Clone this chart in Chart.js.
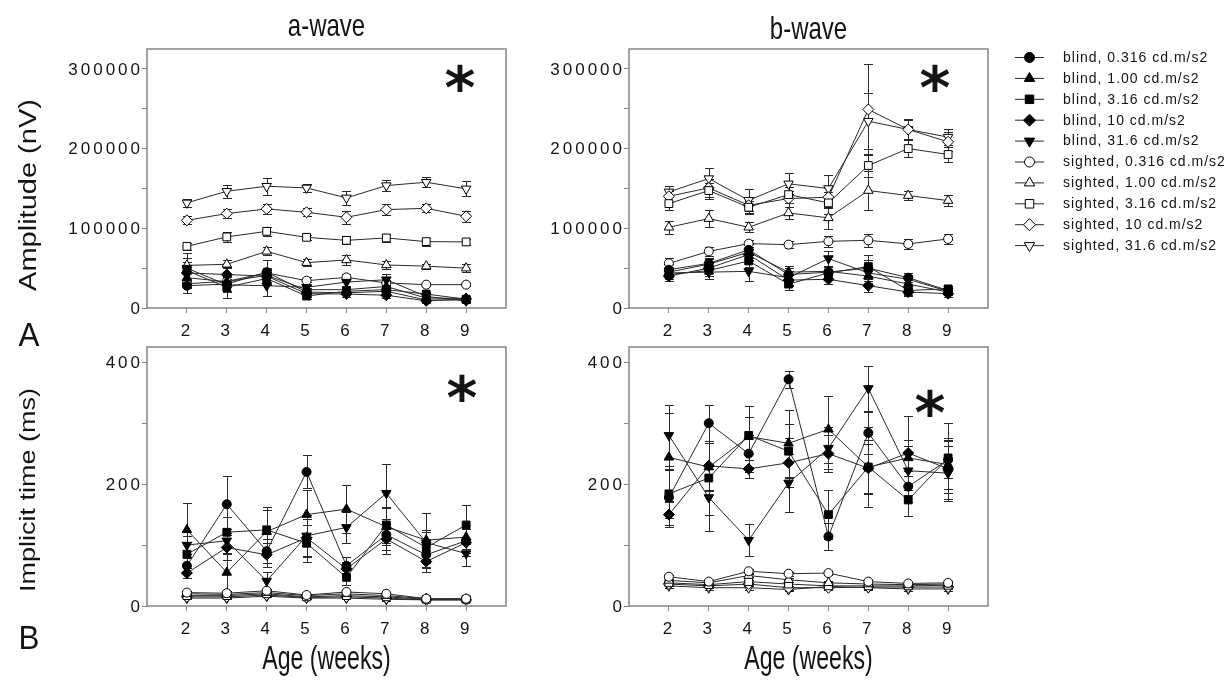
<!DOCTYPE html>
<html>
<head>
<meta charset="utf-8">
<title>ERG a-wave / b-wave</title>
<script src="https://cdn.jsdelivr.net/npm/chart.js@4.4.1/dist/chart.umd.min.js"></script>
<style>
  html, body { margin: 0; padding: 0; background: #fff; }
  #wrap { position: relative; width: 1230px; height: 680px; overflow: hidden; }
  canvas { position: absolute; }
</style>
</head>
<body>
<div id="wrap">
  <canvas id="ampA"  width="560" height="352" style="left:0px;top:0px"></canvas>
  <canvas id="ampB"  width="710" height="352" style="left:520px;top:0px"></canvas>
  <canvas id="timeA" width="560" height="340" style="left:0px;top:340px"></canvas>
  <canvas id="timeB" width="480" height="340" style="left:520px;top:340px"></canvas>
</div>
<script>
/* ── data ─────────────────────────────────────────────────── */
const weeks = [2, 3, 4, 5, 6, 7, 8, 9];
const intensities = ['0.316', '1.00', '3.16', '10', '31.6'];
const ampTicks  = [0, 100000, 200000, 300000];
const timeTicks = [0, 200, 400];

// a-wave amplitude (nV), one row per intensity
const ampA_blind = [
    [28000, 30000, 45000, 20000, 19000, 21000, 10000, 10000],
    [38000, 33000, 41000, 23000, 23000, 27000, 12500, 12000],
    [47000, 26000, 37000, 15000, 21000, 23000, 17500, 11000],
    [44000, 42000, 40000, 18000, 17500, 16000,  9000, 11500],
    [50000, 29000, 28000, 26000, 32500, 35500, 14500,  9000],
];
const ampA_blindErr = [
    [ 9000, 10000, 15000, 5000, 5000, 5000, 3000, 2500],
    [ 8000,  7000,  9000, 5000, 5000, 6000, 3000, 2500],
    [22000, 13000,  8000, 4000, 4000, 5000, 3000, 2500],
    [ 7000, 10000,  8000, 4000, 4000, 4000, 2500, 2500],
    [13000,  8000, 13000, 6000, 6000, 7000, 3000, 2500],
];
const ampA_sighted = [
    [ 30500,  33400,  44000,  34300,  38400,  31400,  29300,  29300],
    [ 53500,  54800,  71100,  56900,  60300,  54000,  52500,  50000],
    [ 77400,  89200,  96200,  88700,  84900,  87900,  83300,  82900],
    [110000, 118500, 124300, 120100, 113800, 123500, 125100, 115100],
    [131900, 146500, 152800, 150700, 138200, 153600, 157800, 149500],
];
const ampA_sightedErr = [
    [4000, 5000, 5000, 5000, 4000, 4000, 2000, 2000],
    [4000, 5000, 5000, 4000, 6000, 5000, 3000, 5000],
    [4000, 6000, 6000, 3000, 5000, 5000, 5000, 4000],
    [5000, 6000, 6000, 5000, 8000, 7000, 5000, 7000],
    [5000, 8400, 10500, 5000, 9000, 6500, 6500, 9400],
];

// b-wave amplitude (nV)
const ampB_blind = [
    [48000, 56000, 73000, 42000, 45000, 50000, 38000, 22000],
    [45000, 55000, 70000, 45000, 46000, 40000, 30000, 20000],
    [42000, 47000, 59000, 30000, 44000, 52000, 22000, 24000],
    [40000, 50000, 67000, 35000, 36000, 28000, 20000, 18000],
    [44000, 45000, 46000, 38000, 62000, 44000, 36000, 21000],
];
const ampB_blindErr = [
    [7000, 7000, 7000, 8000, 7000, 10000, 6000, 4000],
    [6000, 7000, 7000, 8000, 7000,  9000, 6000, 4000],
    [6000, 7000, 8000, 7000, 8000, 15000, 6000, 4000],
    [6000, 6000, 7000, 7000, 6000,  8000, 5000, 4000],
    [7000, 8000, 12600, 9000, 9000, 10000, 6000, 4000],
];
const ampB_sighted = [
    [ 56000,  71000,  80800,  79500,  83700,  84900,  80400,  86700],
    [101300, 112200, 101300, 119300, 113100, 147400, 141100, 134800],
    [131000, 147400, 126400, 142300, 131900, 178800, 200100, 192600],
    [140200, 150700, 128900, 137300, 139000, 249100, 224000, 208500],
    [145700, 162400, 135200, 155800, 149900, 234400, 224000, 214400],
];
const ampB_sightedErr = [
    [7000,  6000,  4000,  4000,  7000,  8000,  6000,  6000],
    [8000, 11000,  6000,  8000, 13500, 24000,  6000,  7000],
    [8000, 10000,  8000, 10000, 14000, 15000, 11000, 10000],
    [7000, 11000, 10000, 10000, 14000, 57000, 12000, 12000],
    [7000, 13000, 14000, 13000, 17600, 35000, 13000, 10000],
];

// a-wave implicit time (ms)
const timeA_blind = [
    [ 66, 167,  90, 220,  66, 117,  84, 107],
    [125,  55, 122, 150, 159, 130, 108, 113],
    [ 85, 121, 125, 103,  47, 133,  96, 133],
    [ 54,  96,  84, 112,  61, 110,  73, 104],
    [100, 107,  41, 115, 129, 185, 104,  86],
];
const timeA_blindErr = [
    [12, 47, 20, 27, 15, 25, 20, 20],
    [44, 30, 35, 40, 40, 30, 45, 20],
    [20, 25, 37, 30, 12, 30, 25, 32],
    [ 8, 20, 20, 30, 12, 25, 18, 22],
    [15, 20, 15, 35, 25, 48, 20, 20],
];
const timeA_sighted = [
    [22, 21, 25, 18, 23, 20, 12, 12],
    [20, 19, 22, 17, 20, 17, 12, 11],
    [17, 17, 20, 15, 17, 15, 11, 11],
    [15, 15, 18, 14, 15, 13, 10, 10],
    [13, 13, 16, 13, 13, 11, 10, 10],
];
const timeA_sightedErr = [
    [3, 3, 3, 2, 3, 3, 2, 2],
    [3, 2, 3, 2, 3, 2, 2, 2],
    [2, 2, 3, 2, 2, 2, 2, 2],
    [2, 2, 2, 2, 2, 2, 2, 2],
    [2, 2, 2, 2, 2, 2, 2, 2],
];

// b-wave implicit time (ms)
const timeB_blind = [
    [178, 300, 250, 372, 114, 284, 196, 240],
    [244, 228, 278, 267, 290, 228, 243, 232],
    [184, 210, 280, 254, 150, 228, 174, 243],
    [150, 230, 225, 235, 250, 226, 251, 225],
    [280, 178, 108, 202, 259, 357, 222, 218],
];
const timeB_blindErr = [
    [45, 30, 30, 14, 22, 35, 25, 30],
    [72, 40, 50, 55, 55, 65, 30, 40],
    [40, 60, 30, 44, 40, 45, 27, 57],
    [20, 40, 15, 40, 30, 40, 60, 50],
    [50, 55, 26, 48, 35, 37, 40, 45],
];
const timeB_sighted = [
    [48, 40, 57, 53, 54, 40, 37, 38],
    [42, 38, 50, 43, 38, 36, 35, 36],
    [38, 35, 40, 36, 33, 33, 33, 34],
    [36, 33, 36, 30, 30, 31, 31, 31],
    [33, 30, 30, 27, 32, 30, 28, 28],
];
const timeB_sightedErr = [
    [3, 3, 3, 3, 3, 3, 3, 3],
    [3, 3, 3, 3, 3, 3, 3, 3],
    [3, 3, 3, 3, 3, 3, 3, 3],
    [3, 3, 3, 3, 3, 3, 3, 3],
    [3, 3, 3, 3, 3, 3, 3, 3],
];

/* ── styling ──────────────────────────────────────────────── */
const fontFamily = '"Liberation Sans", Arial, sans-serif';
const ink   = '#141414';
const line  = '#2a2a2a';
const frame = '#858585';

Chart.defaults.font.family = fontFamily;

const markers = [
    { pointStyle: 'circle',   radius: 4.5, rotation: 0 },
    { pointStyle: 'triangle', radius: 5.5, rotation: 0 },
    { pointStyle: 'rect',     radius: 5.5, rotation: 0 },
    { pointStyle: 'rectRot',  radius: 5.5, rotation: 0 },
    { pointStyle: 'triangle', radius: 5.5, rotation: 180 },
];

function buildSets(blind, blindErr, sighted, sightedErr) {
    const sets = [];
    [['blind', blind, blindErr, '#000'], ['sighted', sighted, sightedErr, '#fff']].forEach(([group, rows, errs, fill]) => {
        rows.forEach((row, i) => {
            const m = markers[i];
            sets.push({
                label: `${group}, ${intensities[i]} cd.m/s2`,
                data: row.map((v, k) => ({ x: weeks[k], y: v })),
                errors: errs[i],
                borderColor: line,
                borderWidth: 1,
                tension: 0,
                pointStyle: m.pointStyle,
                pointRadius: m.radius,
                pointRotation: m.rotation,
                pointBackgroundColor: fill,
                pointBorderColor: '#000',
                pointBorderWidth: 1,
            });
        });
    });
    return sets;
}

// centred text, optionally narrowed and/or rotated
function drawLabel(ctx, item) {
    ctx.save();
    ctx.letterSpacing = '0px';
    ctx.translate(item.x, item.y);
    ctx.scale(item.squash || 0.8, 1);
    if (item.rotate) ctx.rotate(-Math.PI / 2);
    let size = item.size;
    const family = item.family || fontFamily;
    const weight = item.bold ? 'bold ' : '';
    ctx.font = `${weight}${size}px ${family}`;
    if (item.fitHeight) {
        const probe = ctx.measureText(item.text);
        const h = probe.actualBoundingBoxAscent + probe.actualBoundingBoxDescent;
        size = size * item.fitHeight / h;
        ctx.font = `${weight}${size}px ${family}`;
    }
    ctx.fillStyle = item.color || ink;
    ctx.textAlign = 'center';
    ctx.textBaseline = 'alphabetic';
    const m = ctx.measureText(item.text);
    ctx.fillText(item.text, 0, (m.actualBoundingBoxAscent - m.actualBoundingBoxDescent) / 2);
    ctx.restore();
}

/* ── plugins ──────────────────────────────────────────────── */
const spacing = {
    id: 'spacing',
    beforeLayout(chart) { chart.ctx.letterSpacing = '3px'; },
    beforeDraw(chart)   { chart.ctx.letterSpacing = '3px'; },
};

const framePlugin = {
    id: 'frame',
    afterDraw(chart) {
        const { ctx, chartArea: a } = chart;
        ctx.save();
        ctx.strokeStyle = frame;
        ctx.lineWidth = 1.5;
        ctx.strokeRect(a.left, a.top, a.right - a.left, a.bottom - a.top);
        ctx.restore();
    },
};

// value labels on the y axis, only for the labelled ticks
const yLabels = {
    id: 'yLabels',
    afterDraw(chart, args, opts) {
        const s = chart.scales.y;
        const ctx = chart.ctx;
        ctx.save();
        ctx.letterSpacing = '3px';
        ctx.font = `17px ${fontFamily}`;
        ctx.fillStyle = ink;
        ctx.textAlign = 'right';
        ctx.textBaseline = 'middle';
        s.ticks.forEach(t => {
            if (opts.labelled.includes(t.value)) {
                ctx.fillText(String(t.value), s.right - 4, s.getPixelForValue(t.value) + 1);
            }
        });
        ctx.restore();
    },
};

const errorBars = {
    id: 'errorBars',
    beforeDatasetsDraw(chart) {
        const { ctx, scales: { x, y } } = chart;
        ctx.save();
        ctx.strokeStyle = line;
        ctx.lineWidth = 1;
        chart.data.datasets.forEach(ds => {
            ds.data.forEach((p, k) => {
                const e = ds.errors[k];
                const px = Math.round(x.getPixelForValue(p.x)) + 0.5;
                const hi = Math.round(y.getPixelForValue(p.y + e)) + 0.5;
                const lo = Math.round(y.getPixelForValue(Math.max(p.y - e, 0))) + 0.5;
                ctx.beginPath();
                ctx.moveTo(px, hi);       ctx.lineTo(px, lo);
                ctx.moveTo(px - 4.5, hi); ctx.lineTo(px + 4.5, hi);
                ctx.moveTo(px - 4.5, lo); ctx.lineTo(px + 4.5, lo);
                ctx.stroke();
            });
        });
        ctx.restore();
    },
};

const panelText = {
    id: 'panelText',
    afterDraw(chart, args, opts) {
        (opts.items || []).forEach(item => drawLabel(chart.ctx, item));
    },
};

const legendPlugin = {
    id: 'sideLegend',
    afterDraw(chart, args, opts) {
        if (!opts.show) return;
        const ctx = chart.ctx;
        ctx.save();
        chart.data.datasets.forEach((ds, i) => {
            const y = opts.top + i * opts.step;
            ctx.strokeStyle = line;
            ctx.lineWidth = 1;
            ctx.beginPath();
            ctx.moveTo(opts.lineLeft, y + 0.5);
            ctx.lineTo(opts.lineRight, y + 0.5);
            ctx.stroke();
            ctx.fillStyle = ds.pointBackgroundColor;
            ctx.strokeStyle = '#000';
            Chart.helpers.drawPoint(ctx, {
                pointStyle: ds.pointStyle,
                radius: ds.pointRadius + 0.5,
                rotation: ds.pointRotation,
                borderWidth: 1,
            }, (opts.lineLeft + opts.lineRight) / 2, y + 0.5);
            ctx.letterSpacing = '1px';
            ctx.font = `14px ${fontFamily}`;
            ctx.fillStyle = ink;
            ctx.textAlign = 'left';
            ctx.textBaseline = 'middle';
            ctx.fillText(ds.label, opts.textLeft, y + 1);
        });
        ctx.restore();
    },
};

/* ── axes ─────────────────────────────────────────────────── */
function xAxis(height) {
    return {
        type: 'linear',
        min: 1,
        max: 10,
        afterBuildTicks: s => { s.ticks = weeks.map(w => ({ value: w })); },
        afterFit: s => { s.height = height; },
        grid: { drawOnChartArea: false, drawTicks: true, tickLength: 5, color: frame, lineWidth: 1 },
        border: { display: false },
        ticks: {
            color: ink, font: { size: 17 }, padding: 8,
            autoSkip: false, maxRotation: 0,
            callback: v => String(v),
        },
    };
}

function yAxis(max, step, labelled, width) {
    const top = labelled[labelled.length - 1];
    return {
        min: 0,
        max,
        afterBuildTicks: s => {
            const ticks = [];
            for (let v = 0; v <= top; v += step) ticks.push({ value: v });
            s.ticks = ticks;
        },
        afterFit: s => { s.width = width; },
        grid: { drawOnChartArea: false, drawTicks: true, tickLength: 5, color: frame, lineWidth: 1 },
        border: { display: false },
        ticks: { display: false },
    };
}

function makeChart(id, datasets, cfg) {
    return new Chart(document.getElementById(id), {
        type: 'line',
        data: { datasets },
        options: {
            responsive: false,
            animation: false,
            devicePixelRatio: 1,
            layout: { padding: cfg.padding },
            plugins: {
                legend: { display: false },
                tooltip: { enabled: false },
                panelText: { items: cfg.text },
                yLabels: { labelled: cfg.labelled },
                sideLegend: cfg.legend || { show: false },
            },
            scales: {
                x: xAxis(cfg.xHeight),
                y: yAxis(cfg.max, cfg.step, cfg.labelled, cfg.yWidth),
            },
        },
        plugins: [spacing, errorBars, framePlugin, yLabels, panelText, legendPlugin],
    });
}

const star = { text: '*', size: 80, bold: true, fitHeight: 28, squash: 1, family: '"DejaVu Sans", sans-serif' };
const heading = { size: 32, squash: 0.75 };
const xTitle  = { text: 'Age (weeks)', size: 34, squash: 0.68 };

/* ── A: amplitude ─────────────────────────────────────────── */
makeChart('ampA', buildSets(ampA_blind, ampA_blindErr, ampA_sighted, ampA_sightedErr), {
    padding: { top: 49, right: 54, left: 0, bottom: 0 },
    xHeight: 44, yWidth: 147,
    max: 325000, step: 50000, labelled: ampTicks,
    text: [
        { ...heading, text: 'a-wave', x: 326.5, y: 27 },
        { text: 'Amplitude (nV)', x: 29, y: 195, size: 29, rotate: true, squash: 0.85 },
        { text: 'A', x: 29, y: 334, size: 33, squash: 0.95 },
        { ...star, x: 460, y: 78 },
    ],
});

makeChart('ampB', buildSets(ampB_blind, ampB_blindErr, ampB_sighted, ampB_sightedErr), {
    padding: { top: 49, right: 242, left: 0, bottom: 0 },
    xHeight: 44, yWidth: 109,
    max: 325000, step: 50000, labelled: ampTicks,
    text: [
        { ...heading, text: 'b-wave', x: 288.5, y: 27 },
        { ...star, x: 415, y: 78 },
    ],
    legend: { show: true, top: 57, step: 20.9, lineLeft: 495, lineRight: 524, textLeft: 543 },
});

/* ── B: implicit time ─────────────────────────────────────── */
makeChart('timeA', buildSets(timeA_blind, timeA_blindErr, timeA_sighted, timeA_sightedErr), {
    padding: { top: 7, right: 54, left: 0, bottom: 0 },
    xHeight: 74, yWidth: 147,
    max: 425, step: 100, labelled: timeTicks,
    text: [
        { text: 'Implicit time (ms)', x: 29, y: 150, size: 27, rotate: true, squash: 0.85 },
        { text: 'B', x: 29, y: 297, size: 33, squash: 0.95 },
        { ...xTitle, x: 326.5, y: 320 },
        { ...star, x: 462, y: 48 },
    ],
});

makeChart('timeB', buildSets(timeB_blind, timeB_blindErr, timeB_sighted, timeB_sightedErr), {
    padding: { top: 7, right: 12, left: 0, bottom: 0 },
    xHeight: 74, yWidth: 109,
    max: 425, step: 100, labelled: timeTicks,
    text: [
        { ...xTitle, x: 288.5, y: 320 },
        { ...star, x: 410, y: 63 },
    ],
});
</script>
</body>
</html>
